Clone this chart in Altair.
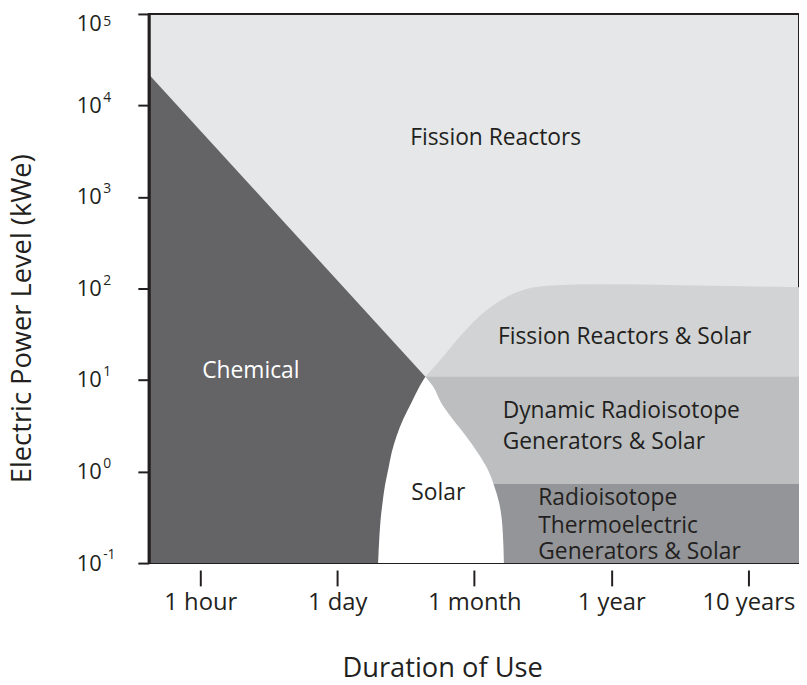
import altair as alt
import pandas as pd

FONT = "Open Sans"
INK = "#231f20"

# ---- axes ----
X_MIN, X_MAX = -0.376, 4.37
Y_MIN, Y_MAX = 0.1, 1e5
x_tick_pos = [0, 1, 2, 3, 4]
x_tick_labels = ["1 hour", "1 day", "1 month", "1 year", "10 years"]
y_tick_vals = [0.1, 1, 10, 100, 1000, 10000, 100000]
y_tick_exps = ["-1", "0", "1", "2", "3", "4", "5"]

# ---- region boundaries (x: duration index, y: kWe) ----
# chemical: straight upper edge to the crossing point, then a chord hidden under the solar lobe
chem_edge_y = [22000, 10.87, 0.1]
chem_edge_x = [-0.376, 1.643, 1.298]

solar_y = [10.87, 8.53, 5.64, 3.72, 2.45, 1.62, 1.07, 0.705, 0.466, 0.307, 0.2025, 0.1]
solar_left = [1.643, 1.601, 1.541, 1.481, 1.433, 1.397, 1.373, 1.348, 1.331, 1.317, 1.308, 1.298]
solar_right = [1.643, 1.698, 1.758, 1.843, 1.939, 2.024, 2.096, 2.144, 2.180, 2.200, 2.209, 2.216]

frs_x = [1.643, 1.795, 1.918, 2.062, 2.229, 2.395, 2.569, 2.880, 3.604, 4.37]
frs_y = [10.87, 19.8, 32.6, 53.6, 80, 100, 108, 111, 108, 103]

band_x0 = 1.643
dyn_top = 10.87
rtg_top = 0.73

# ---- labels ----
center_labels = ["Fission Reactors", "Chemical", "Solar", "Fission Reactors & Solar"]
center_x = [2.156, 0.369, 1.737, 3.097]
center_y = [4430, 12.6, 0.587, 29.4]
center_color = [INK, "#ffffff", INK, INK]

left_labels = ["Dynamic Radioisotope", "Generators & Solar", "Radioisotope", "Thermoelectric", "Generators & Solar"]
left_x = [2.207, 2.207, 2.467, 2.467, 2.467]
left_y = [4.54, 2.09, 0.519, 0.252, 0.1315]

xscale = alt.Scale(domain=[X_MIN, X_MAX], nice=False, zero=False)
yscale = alt.Scale(type="log", domain=[Y_MIN, Y_MAX], nice=False)

label_expr = "[" + ",".join("'%s'" % s for s in x_tick_labels) + "][datum.value]"

xaxis = alt.Axis(values=x_tick_pos, labelExpr=label_expr, domain=False, offset=7,
                 tickSize=16, tickWidth=2, tickColor=INK, labelFont=FONT, labelFontSize=24,
                 labelColor=INK, labelPadding=5, grid=False, labelFlush=False,
                 title="Duration of Use", titleFont=FONT, titleFontSize=27.5,
                 titleFontWeight="normal", titleColor=INK, titleX=296, titleY=107,
                 titleBaseline="alphabetic", titleAnchor="middle", titleAlign="center")
yaxis = alt.Axis(values=y_tick_vals, labelExpr="'10'", domain=True, domainWidth=3,
                 domainColor=INK, tickSize=11, tickWidth=2, tickColor=INK,
                 labelFont=FONT, labelFontSize=22, labelColor=INK, labelPadding=37,
                 labelBaseline={"condition": {"test": "datum.value >= 100000", "value": "top"}, "value": "middle"},
                 grid=False, zindex=1,
                 title="Electric Power Level (kWe)", titleFont=FONT, titleFontSize=27.5,
                 titleFontWeight="normal", titleColor=INK, titleX=-119, titleY=307,
                 titleAngle=270, titleBaseline="alphabetic", titleAlign="center")


def X(f):
    return alt.X(f, type="quantitative", scale=xscale, axis=xaxis)


def Y(f):
    return alt.Y(f, type="quantitative", scale=yscale, axis=yaxis)


frs_df = pd.DataFrame({"x": frs_x, "y": frs_y, "y0": Y_MIN})
frs = alt.Chart(frs_df).mark_area(color="#d1d3d4", interpolate="monotone", orient="vertical", clip=True).encode(
    x=X("x"), y=Y("y"), y2="y0")

bands_df = pd.DataFrame({"x": [band_x0, band_x0], "x2": [X_MAX, X_MAX],
                         "y": [Y_MIN, Y_MIN], "y2": [dyn_top, rtg_top],
                         "c": ["#bcbec0", "#939598"]})
bands = alt.Chart(bands_df).mark_rect(clip=True).encode(
    x=X("x"), x2="x2", y=Y("y"), y2="y2", color=alt.Color("c:N", scale=None))

chem_up_df = pd.DataFrame({"y": chem_edge_y, "x": X_MIN, "x2": chem_edge_x})
chem_up = alt.Chart(chem_up_df).mark_area(color="#646466", orient="horizontal", clip=True).encode(
    y=Y("y"), x=X("x"), x2="x2")

chem_lo_df = pd.DataFrame({"y": solar_y, "x": X_MIN, "x2": solar_left})
chem_lo = alt.Chart(chem_lo_df).mark_area(color="#646466", orient="horizontal",
                                          interpolate="monotone", clip=True).encode(
    y=Y("y"), x=X("x"), x2="x2")

solar_df = pd.DataFrame({"y": solar_y, "x": solar_left, "x2": solar_right})
solar = alt.Chart(solar_df).mark_area(color="#ffffff", orient="horizontal",
                                      interpolate="monotone", clip=True).encode(
    y=Y("y"), x=X("x"), x2="x2")

cl_df = pd.DataFrame({"x": center_x, "y": center_y, "label": center_labels, "c": center_color})
cl = alt.Chart(cl_df).mark_text(font=FONT, fontSize=23, align="center", baseline="middle").encode(
    x=X("x"), y=Y("y"), text="label:N", color=alt.Color("c:N", scale=None))

ll_df = pd.DataFrame({"x": left_x, "y": left_y, "label": left_labels})
ll = alt.Chart(ll_df).mark_text(font=FONT, fontSize=23, align="left", baseline="middle", color=INK).encode(
    x=X("x"), y=Y("y"), text="label:N")

exp_df = pd.DataFrame({"y": y_tick_vals, "e": y_tick_exps})
exp_mid = alt.Chart(exp_df).transform_filter("datum.y < 100000").mark_text(
    font=FONT, fontSize=14, align="left", baseline="middle", color=INK, dy=-8).encode(
    x=alt.value(-46), y=Y("y"), text="e:N")
exp_top = alt.Chart(exp_df).transform_filter("datum.y >= 100000").mark_text(
    font=FONT, fontSize=14, align="left", baseline="middle", color=INK, dy=8).encode(
    x=alt.value(-46), y=Y("y"), text="e:N")

chart = alt.layer(frs, bands, chem_up, chem_lo, solar, cl, ll, exp_mid, exp_top).properties(
    width=656, height=554,
    autosize=alt.AutoSizeParams(type="none"),
    padding={"left": 142, "top": 3, "right": 0, "bottom": 120},
).configure_view(fill="#e6e7e8", stroke=INK, strokeWidth=2)

chart.save("out.html", embed_options={"renderer": "svg", "actions": False})
